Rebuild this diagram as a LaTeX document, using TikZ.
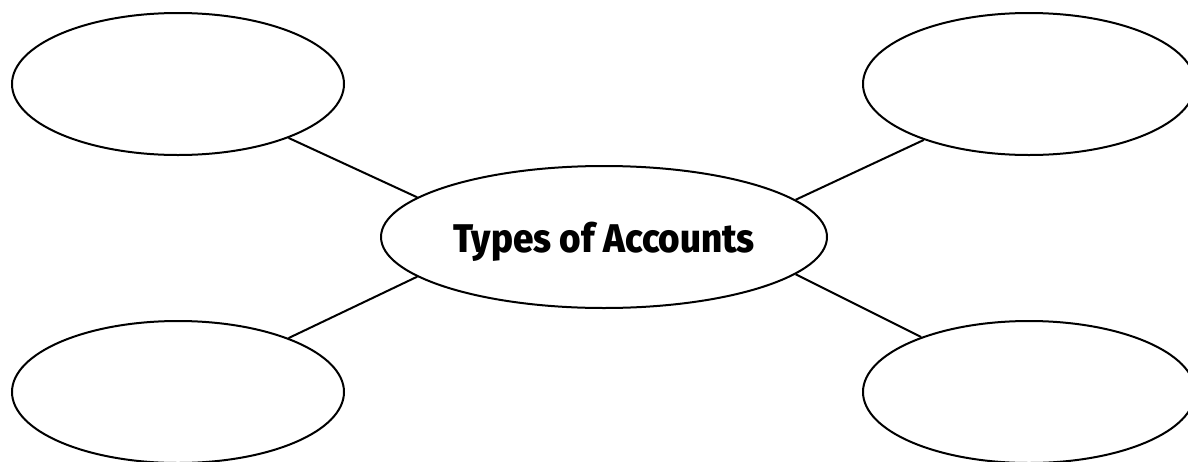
\documentclass[tikz,border=0pt]{standalone}
\usepackage{fontspec}
\setmainfont{Fira Sans}
\newfontfamily\titlefont[FakeStretch=0.92]{Fira Sans ExtraBold}
\usetikzlibrary{shapes.geometric}
\begin{document}
\begin{tikzpicture}[x=1pt,y=-1pt,
  bubble/.style={draw=black,line width=2pt,ellipse,inner sep=0pt,minimum width=332pt,minimum height=142pt},
  hub/.style={draw=black,line width=2pt,ellipse,inner sep=0pt,minimum width=446pt,minimum height=142pt,
    font=\titlefont\fontsize{40}{40}\selectfont,text height=30pt,text depth=0pt},
  link/.style={draw=black,line width=2pt}]
\useasboundingbox (0,0) rectangle (1188,461);
\node[hub] (c) at (604,237) {Types of Accounts};
\node[bubble] (tl) at (178,84) {};
\node[bubble] (tr) at (1029,84) {};
\node[bubble] (bl) at (178,392) {};
\node[bubble] (br) at (1029,392) {};
\draw[link] (tl.-26.8) -- (c.168.7);
\draw[link] (tr.-152.8) -- (c.11.4);
\draw[link] (bl.26.1) -- (c.192.2);
\draw[link] (br.153.6) -- (c.-11.9);
\end{tikzpicture}
\end{document}
